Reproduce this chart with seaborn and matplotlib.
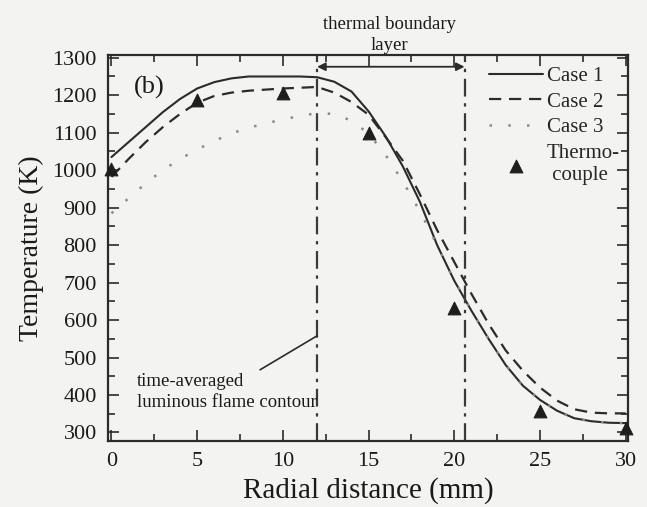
import numpy as np
import pandas as pd
import seaborn as sns
import matplotlib.pyplot as plt
from matplotlib.ticker import MultipleLocator

sns.set_style('ticks')
plt.rcParams['font.family'] = ['Liberation Serif', 'DejaVu Serif']

# radial positions (mm) and temperatures (K)
r = [0, 1, 2, 3, 4, 5, 6, 7, 8, 9, 10, 11, 12, 13, 14, 15, 16, 17, 18, 19, 20,
     21, 22, 23, 24, 25, 26, 27, 28, 29, 30]
case1 = [1035, 1075, 1115, 1155, 1190, 1218, 1235, 1245, 1250, 1250, 1250, 1250, 1248,
         1236, 1210, 1157, 1090, 1010, 915, 800, 705, 625, 550, 480, 425, 387, 358,
         338, 330, 326, 325]
case2 = [982, 1030, 1075, 1115, 1150, 1180, 1198, 1207, 1212, 1215, 1218, 1220, 1222,
         1207, 1182, 1148, 1088, 1025, 935, 840, 755, 670, 590, 519, 465, 420, 385,
         362, 353, 351, 351]
case3 = [885, 925, 965, 1000, 1030, 1055, 1078, 1098, 1113, 1125, 1135, 1145, 1152,
         1150, 1132, 1098, 1040, 970, 890, 800, 705, 625, 550, 480, 425, 387, 358,
         338, 330, 326, 325]

tc_r = [0, 5, 10, 15, 20, 25, 30]
tc_T = [1003, 1188, 1207, 1100, 632, 358, 312]

df = pd.DataFrame({'r': r, 'Case 1': case1, 'Case 2': case2, 'Case 3': case3})

fig, ax = plt.subplots(figsize=(6.47, 5.07), dpi=100)
bg = '#f3f3f1'
fig.patch.set_facecolor(bg)
ax.set_facecolor(bg)
fig.subplots_adjust(left=0.167, right=0.971, top=0.892, bottom=0.130)

ink = '#2b2b2b'
sns.lineplot(data=df, x='r', y='Case 1', ax=ax, color=ink, lw=1.5, label='Case 1')
sns.lineplot(data=df, x='r', y='Case 2', ax=ax, color=ink, lw=1.6, label='Case 2',
             linestyle=(0, (5.5, 3.5)))
sns.lineplot(data=df, x='r', y='Case 3', ax=ax, color='#8a8a8a', lw=1.8, label='Case 3',
             linestyle=(0, (1, 6.5)))
sns.scatterplot(x=tc_r, y=tc_T, ax=ax, marker='^', s=85, color='#1e1e1e',
                edgecolor='#1e1e1e', label='Thermo-\n couple', zorder=5, clip_on=False)

# thermal boundary layer limits
for xv in [12, 20.6]:
    ax.axvline(xv, color='#3a3a3a', lw=1.6, linestyle=(0, (8, 3, 1.5, 3)))
ax.annotate('', xy=(12, 1276), xytext=(20.6, 1276),
            arrowprops=dict(arrowstyle='<|-|>', color=ink, lw=1.3, mutation_scale=12,
                            shrinkA=0, shrinkB=0))
ax.text(16.2, 1311, 'thermal boundary\nlayer', ha='center', va='bottom', fontsize=13.5,
        color='#1a1a1a', linespacing=1.3)

ax.text(1.3, 1222, '(b)', fontsize=19, color='#1a1a1a', va='center')

ax.annotate('time-averaged\nluminous flame contour', xy=(12.0, 558), xytext=(1.5, 408),
            fontsize=13.5, color='#1a1a1a', va='center', ha='left', linespacing=1.3,
            arrowprops=dict(arrowstyle='-', color=ink, lw=1.2, shrinkA=0, shrinkB=0,
                            relpos=(0.6, 0.85)))

ax.set_xlim(-0.2, 30.15)
ax.set_ylim(277, 1308)
ax.xaxis.set_major_locator(MultipleLocator(5))
ax.xaxis.set_minor_locator(MultipleLocator(2.5))
ax.yaxis.set_major_locator(MultipleLocator(100))
ax.yaxis.set_minor_locator(MultipleLocator(50))
ax.tick_params(which='both', direction='in', top=True, right=True, colors=ink,
               labelcolor='#1a1a1a', width=1.2)
ax.tick_params(which='major', length=8, labelsize=16, pad=8)
ax.tick_params(which='minor', length=5)
for s in ax.spines.values():
    s.set_linewidth(1.6)
    s.set_color(ink)

ax.set_xlabel('Radial distance (mm)', fontsize=21, color='#1a1a1a', labelpad=4)
ax.set_ylabel('Temperature (K)', fontsize=20, color='#1a1a1a', labelpad=6)

ax.legend(loc='upper right', frameon=False, fontsize=15, handlelength=2.6,
          handletextpad=0.2, labelspacing=0.3, borderaxespad=0.3,
          bbox_to_anchor=(1.012, 1.008))

fig.savefig('out.png', dpi=100, facecolor=bg)
